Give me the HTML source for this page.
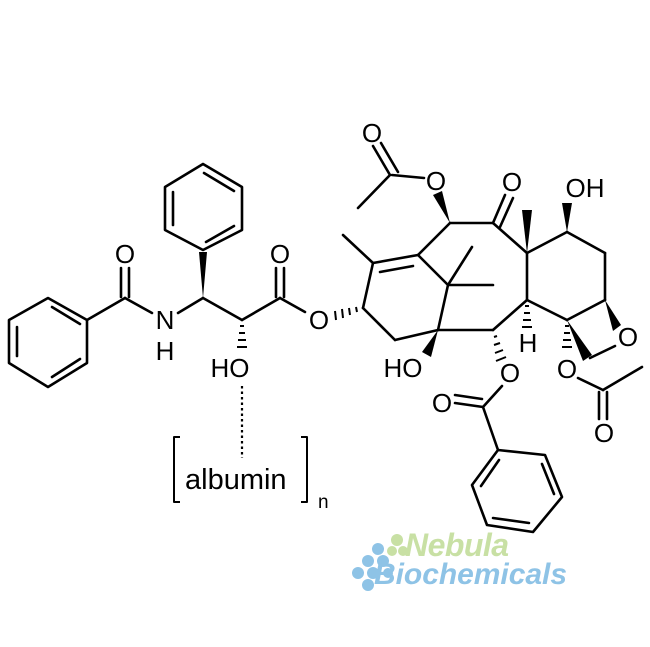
<!DOCTYPE html>
<html><head><meta charset="utf-8"><style>
html,body{margin:0;padding:0;background:#fff;}
svg{display:block;}
text{font-family:"Liberation Sans",sans-serif;}
</style></head><body>
<svg width="650" height="647" viewBox="0 0 650 647" xmlns="http://www.w3.org/2000/svg">
<g stroke="#000" stroke-width="2.6" fill="none" stroke-linecap="round" stroke-linejoin="round">
<polygon points="48,298 87,320 87,363 48,387 9,363 9,320"/>
<line x1="52" y1="307" x2="80" y2="324"/>
<line x1="80" y1="359" x2="52" y2="377"/>
<line x1="17" y1="356" x2="17" y2="327"/>
<line x1="87" y1="320" x2="125" y2="298"/>
<line x1="121" y1="297" x2="121" y2="268"/>
<line x1="129" y1="297" x2="129" y2="268"/>
<line x1="125" y1="298" x2="152" y2="313"/>
<line x1="178" y1="313" x2="203" y2="298"/>
<polygon points="203,250 165,230 165,187 203,164 242,187 242,230"/>
<line x1="173" y1="225" x2="173" y2="192"/>
<line x1="204" y1="173" x2="234" y2="191"/>
<line x1="234" y1="226" x2="206" y2="242"/>
<line x1="203" y1="298" x2="242" y2="320"/>
<line x1="242" y1="320" x2="280" y2="298"/>
<line x1="276" y1="297" x2="276" y2="268"/>
<line x1="284" y1="297" x2="284" y2="268"/>
<line x1="280" y1="298" x2="305" y2="312"/>
<line x1="363" y1="308" x2="373" y2="263"/>
<line x1="373" y1="263" x2="418" y2="255"/>
<line x1="380" y1="272" x2="413" y2="266"/>
<line x1="373" y1="263" x2="343" y2="235"/>
<line x1="418" y1="255" x2="450" y2="223"/>
<line x1="424" y1="178" x2="392" y2="175"/>
<line x1="390" y1="175" x2="373" y2="146"/>
<line x1="398" y1="172" x2="381" y2="143"/>
<line x1="390" y1="175" x2="358" y2="208"/>
<line x1="450" y1="223" x2="493" y2="223"/>
<line x1="493" y1="223" x2="505" y2="195"/>
<line x1="500" y1="227" x2="513" y2="198"/>
<line x1="493" y1="223" x2="527" y2="253"/>
<line x1="527" y1="253" x2="567" y2="232"/>
<line x1="567" y1="232" x2="605" y2="253"/>
<line x1="605" y1="253" x2="605" y2="300"/>
<line x1="605" y1="300" x2="567" y2="320"/>
<line x1="567" y1="320" x2="527" y2="300"/>
<line x1="527" y1="300" x2="527" y2="253"/>
<line x1="615" y1="346" x2="590" y2="358"/>
<line x1="527" y1="300" x2="493" y2="330"/>
<line x1="493" y1="330" x2="438" y2="330"/>
<line x1="438" y1="330" x2="448" y2="285"/>
<line x1="448" y1="285" x2="418" y2="255"/>
<line x1="448" y1="285" x2="472" y2="247"/>
<line x1="448" y1="285" x2="493" y2="285"/>
<line x1="438" y1="330" x2="395" y2="340"/>
<line x1="395" y1="340" x2="363" y2="308"/>
<line x1="502" y1="386" x2="483" y2="407"/>
<line x1="483" y1="407" x2="455" y2="403"/>
<line x1="482" y1="399" x2="455" y2="395"/>
<line x1="483" y1="407" x2="498" y2="450"/>
<polygon points="498,450 545,455 562,497 533,532 487,525 472,485"/>
<line x1="542" y1="464" x2="554" y2="494"/>
<line x1="529" y1="523" x2="493" y2="518"/>
<line x1="481" y1="486" x2="499" y2="460"/>
<line x1="578" y1="378" x2="603" y2="390"/>
<line x1="603" y1="390" x2="642" y2="367"/>
<line x1="599" y1="392" x2="599" y2="419"/>
<line x1="607" y1="392" x2="607" y2="419"/>
<line x1="242" y1="386" x2="242" y2="458" stroke-width="2.2" stroke-dasharray="2.5,3" stroke-linecap="butt"/>
<polyline points="180,437 174,437 174,502 180,502" stroke-width="2" stroke-linecap="butt"/>
<polyline points="301,437 307,437 307,502 301,502" stroke-width="2" stroke-linecap="butt"/>
</g>
<g fill="#000">
<polygon points="203,298 199,252 207,252"/>
<polygon points="450,223 433,195 442,191"/>
<polygon points="527,253 522,210 532,210"/>
<polygon points="567,232 562,203 572,203"/>
<polygon points="605,300 613,331 621,325"/>
<polygon points="567,320 583,361 592,355"/>
<polygon points="438,330 422,352 431,357"/>
</g>
<g stroke="#000" stroke-width="2">
<line x1="240" y1="326" x2="244" y2="326"/><line x1="239" y1="333" x2="245" y2="333"/><line x1="238" y1="340" x2="246" y2="340"/><line x1="237" y1="347" x2="247" y2="347"/>
<line x1="356" y1="307" x2="357" y2="312"/><line x1="349" y1="308" x2="350" y2="315"/><line x1="342" y1="309" x2="343" y2="318"/><line x1="335" y1="311" x2="336" y2="320"/>
<line x1="525" y1="306" x2="529" y2="306"/><line x1="524" y1="313" x2="530" y2="313"/><line x1="523" y1="320" x2="531" y2="320"/><line x1="522" y1="327" x2="532" y2="327"/>
<line x1="565" y1="326" x2="569" y2="326"/><line x1="564" y1="333" x2="570" y2="333"/><line x1="563" y1="340" x2="571" y2="340"/><line x1="562" y1="347" x2="572" y2="347"/>
<line x1="494" y1="337" x2="497" y2="336"/><line x1="494" y1="345" x2="500" y2="343"/><line x1="495" y1="353" x2="503" y2="350"/><line x1="496" y1="361" x2="506" y2="357"/>
</g>
<g font-size="26" text-anchor="middle" fill="#000">
<text x="125" y="263">O</text>
<text x="165" y="329">N</text>
<text x="165" y="360">H</text>
<text x="280" y="263">O</text>
<text x="319" y="329">O</text>
<text x="230" y="377">HO</text>
<text x="436" y="190">O</text>
<text x="372" y="142">O</text>
<text x="512" y="191">O</text>
<text x="585" y="197">OH</text>
<text x="628" y="346">O</text>
<text x="528" y="352">H</text>
<text x="567" y="378">O</text>
<text x="510" y="382">O</text>
<text x="403" y="377">HO</text>
<text x="442" y="412">O</text>
<text x="604" y="442">O</text>
</g>
<text x="185" y="489" font-size="29" fill="#000">albumin</text>
<text x="318" y="508" font-size="19" fill="#000">n</text>
<g fill="#8ec3e6">
<circle cx="378" cy="549" r="6"/><circle cx="368" cy="561" r="6"/><circle cx="383" cy="561" r="6"/><circle cx="358" cy="573" r="6"/><circle cx="373" cy="573" r="6"/><circle cx="368" cy="585" r="6"/><circle cx="388" cy="573" r="5"/>
</g>
<g fill="#c8e0a4">
<circle cx="397" cy="540" r="6"/><circle cx="392" cy="551" r="5"/><circle cx="403" cy="551" r="5"/>
</g>
<text x="405" y="556" font-size="32" font-style="italic" font-weight="bold" fill="#c8e0a4" textLength="104">Nebula</text>
<text x="374" y="584" font-size="30" font-style="italic" font-weight="bold" fill="#8ec3e6" textLength="193">Biochemicals</text>
</svg>
</body></html>
